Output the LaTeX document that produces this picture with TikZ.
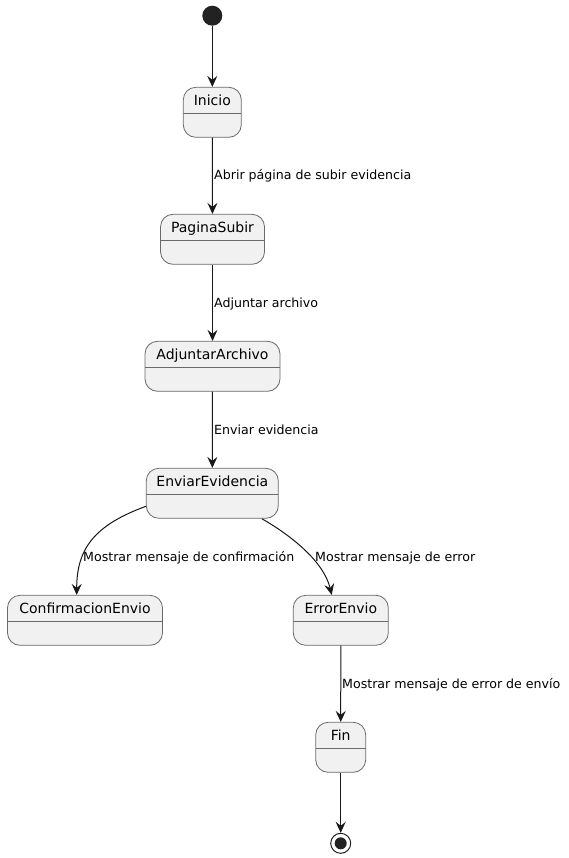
\documentclass[tikz,border=0pt]{standalone}
\usepackage{fontspec}
\setmainfont{DejaVu Sans}
\usetikzlibrary{arrows.meta}
\definecolor{stfill}{HTML}{F1F1F1}
\definecolor{stline}{HTML}{6A6A6A}
\definecolor{ink}{HTML}{181818}
\definecolor{dot}{HTML}{222222}
\tikzset{
  statebox/.style={draw=stline, fill=stfill, line width=0.8pt, rounded corners=12.5pt,
    inner xsep=0pt, inner ysep=0pt, text height=18pt, text depth=32pt, text=black,
    font=\fontsize{14}{16}\selectfont,
    path picture={\draw[stline, line width=0.8pt]
      ([yshift=-26pt]path picture bounding box.north west) --
      ([yshift=-26pt]path picture bounding box.north east);}},
  trans/.style={draw=ink, line width=1pt, -{Stealth[length=11pt, width=10pt, inset=4pt]}},
  lbl/.style={anchor=base west, inner sep=0pt, font=\fontsize{12.6}{15}\selectfont, text=black}
}
\begin{document}
\begin{tikzpicture}[x=1pt, y=-1pt]
\useasboundingbox (0,0) rectangle (569,858);
\fill[white] (0,0) rectangle (569,858);

\node[circle, fill=dot, minimum size=20pt, inner sep=0pt] (start) at (212.3,15.7) {};
\node[statebox, minimum width=58pt] (inicio) at (212.3,112.3) {Inicio};
\node[statebox, minimum width=104pt] (pagina) at (212.5,239.3) {PaginaSubir};
\node[statebox, minimum width=135pt] (adjuntar) at (212.5,366.3) {AdjuntarArchivo};
\node[statebox, minimum width=132pt] (enviar) at (212.3,493.3) {EnviarEvidencia};
\node[statebox, minimum width=155pt] (confirm) at (85,620.3) {ConfirmacionEnvio};
\node[statebox, minimum width=95pt] (error) at (340.8,620.3) {ErrorEnvio};
\node[statebox, minimum width=50pt] (fin) at (340.7,747.3) {Fin};
\node[circle, draw=dot, fill=white, line width=1pt, minimum size=20pt, inner sep=0pt] (stop) at (340.7,843.3) {};
\node[circle, fill=dot, minimum size=12pt, inner sep=0pt] (stopin) at (stop.center) {};

\draw[trans] (start) -- (inicio);
\draw[trans] (inicio) -- (pagina);
\draw[trans] (pagina) -- (adjuntar);
\draw[trans] (adjuntar) -- (enviar);
\draw[trans] ([yshift=-13pt]enviar.west) .. controls (95,525) and (76.7,548) .. (confirm.north -| 76.7,0);
\draw[trans] ([xshift=49.5pt]enviar.south) .. controls (292,536) and (324,562) .. (error.north -| 331.7,0);
\draw[trans] (error) -- (fin);
\draw[trans] (fin) -- (stop);

\node[lbl] (l1) at (214,180) {Abrir página de subir evidencia};
\node[lbl] (l2) at (214,307) {Adjuntar archivo};
\node[lbl] (l3) at (214,434) {Enviar evidencia};
\node[lbl] (l4) at (83,561) {Mostrar mensaje de confirmación};
\node[lbl] (l5) at (315,561) {Mostrar mensaje de error};
\node[lbl] (l6) at (342,688) {Mostrar mensaje de error de envío};
\end{tikzpicture}
\end{document}
